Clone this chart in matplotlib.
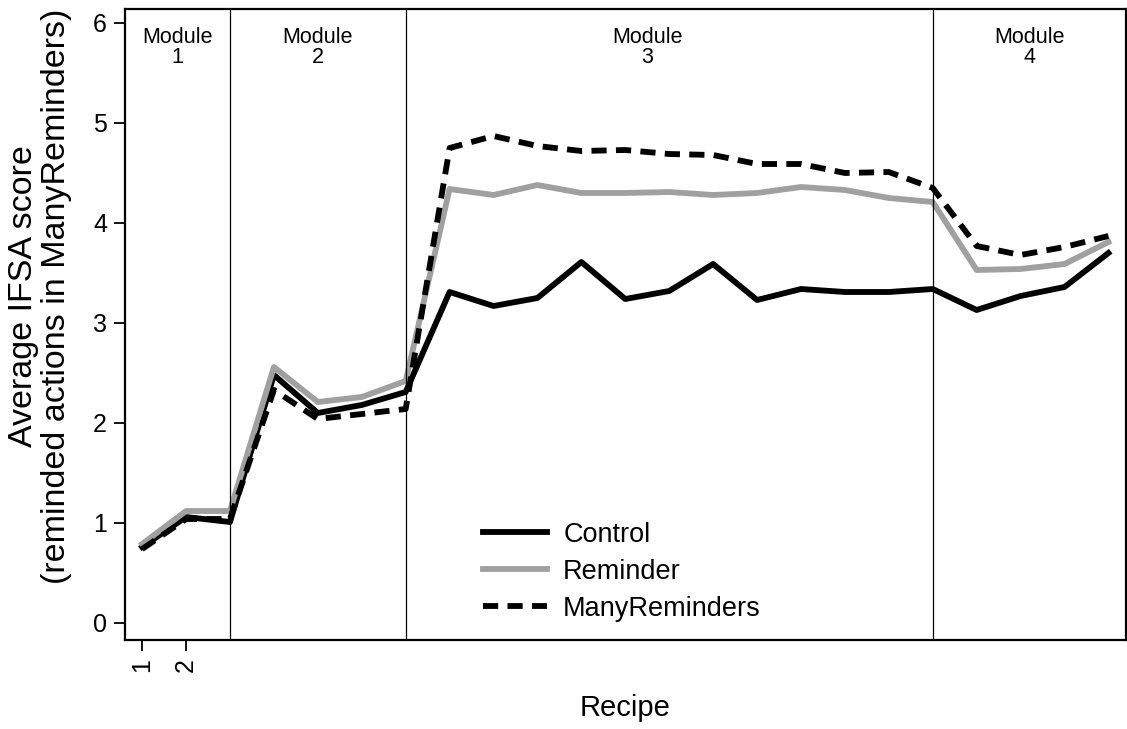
import numpy as np
import matplotlib.pyplot as plt

plt.rcParams['font.family'] = ['Liberation Sans', 'DejaVu Sans']

# recipes 1..23, average IFSA score per arm
recipes = np.arange(1, 24)
control = [0.76, 1.06, 1.01, 2.48, 2.10, 2.18, 2.31,
           3.31, 3.17, 3.25, 3.61, 3.24, 3.32, 3.59, 3.23, 3.34, 3.31, 3.31, 3.34,
           3.13, 3.27, 3.36, 3.70]
reminder = [0.79, 1.12, 1.12, 2.56, 2.21, 2.26, 2.42,
            4.34, 4.28, 4.38, 4.30, 4.30, 4.31, 4.28, 4.30, 4.36, 4.33, 4.25, 4.21,
            3.53, 3.54, 3.59, 3.81]
many = [0.74, 1.04, 1.04, 2.33, 2.04, 2.09, 2.14,
        4.75, 4.87, 4.77, 4.72, 4.73, 4.69, 4.68, 4.59, 4.59, 4.50, 4.51, 4.35,
        3.77, 3.68, 3.76, 3.87]

module_bounds = [3, 7, 19]
module_names = ["Module\n1", "Module\n2", "Module\n3", "Module\n4"]
module_pos = [1.8, 5.0, 12.5, 21.2]

fig = plt.figure(figsize=(11.27, 7.29), dpi=100)
ax = fig.add_axes([125 / 1127, 89 / 729, 1001 / 1127, 631 / 729])

ax.plot(recipes, control, color='black', lw=4.2, label="Control")
ax.plot(recipes, reminder, color='#a0a0a0', lw=4.2, label="Reminder")
ax.plot(recipes, many, color='black', lw=4.2, ls=(0, (2.6, 1.6)), label="ManyReminders")

for b in module_bounds:
    ax.axvline(b, color='black', lw=0.9)
for name, pos in zip(module_names, module_pos):
    ax.text(pos, 5.96, name, ha='center', va='top', fontsize=15.5, linespacing=0.95)

ax.set_xlim(0.61, 23.4)
ax.set_ylim(-0.17, 6.14)
ax.set_yticks(range(7))
ax.set_xticks([1, 2])
ax.set_xticklabels(["1", "2"], rotation=90)
ax.tick_params(labelsize=18, width=1.3, length=8, pad=5)
for s in ax.spines.values():
    s.set_linewidth(1.6)

ax.set_xlabel("Recipe", fontsize=21)
ax.xaxis.set_label_coords(0.5, -0.085)
ax.set_ylabel("Average IFSA score\n(reminded actions in ManyReminders)", fontsize=24.5,
              linespacing=1.1)
ax.yaxis.set_label_coords(-0.053, 0.545)

ax.legend(loc='lower left', bbox_to_anchor=(0.333, -0.01), frameon=False, fontsize=19.5,
          handlelength=2.37, labelspacing=0.41, handletextpad=0.6)

fig.savefig('out.png', dpi=100)
